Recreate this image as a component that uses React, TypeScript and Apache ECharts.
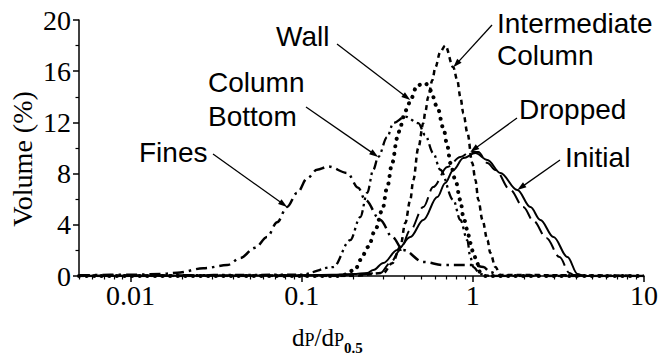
import React, { useEffect, useRef } from 'react';
import * as echarts from 'echarts';

// ---- axis ticks ----
const xMin = 0.005;
const xMax = 10;
const xTickValues = [0.01, 0.1, 1, 10];
const xTickLabels = ['0.01', '0.1', '1', '10'];
const xMinorTicks = [
  0.005, 0.006, 0.007, 0.008, 0.009,
  0.02, 0.03, 0.04, 0.05, 0.06, 0.07, 0.08, 0.09,
  0.2, 0.3, 0.4, 0.5, 0.6, 0.7, 0.8, 0.9,
  2, 3, 4, 5, 6, 7, 8, 9,
];
const yMin = 0;
const yMax = 20;
const yInterval = 4;

// ---- series data (x = dP/dP0.5, y = Volume %) ----
const initialX = [0.005, 0.1, 0.15, 0.2, 0.2415, 0.262, 0.3, 0.362, 0.431, 0.514, 0.62, 0.69, 0.769, 0.881, 1.035, 1.217, 1.448, 1.82, 2.17, 2.48, 2.96, 3.57, 4.09, 4.43, 10];
const initialY = [0, 0.05, 0.1, 0.15, 0.23, 0.47, 1.02, 2.03, 3.05, 4.38, 6.17, 7.27, 8.28, 9.22, 9.6, 9.06, 8.05, 6.72, 5.39, 4.38, 3.05, 1.48, 0.16, 0, 0];

const droppedX = [0.005, 0.1, 0.2, 0.288, 0.329, 0.377, 0.431, 0.514, 0.587, 0.71, 0.845, 0.966, 1.077, 1.217, 1.355, 1.656, 1.972, 2.26, 2.69, 3.21, 3.67, 3.98, 10];
const droppedY = [0, 0.05, 0.1, 0.23, 1.02, 2.03, 3.59, 5.39, 6.95, 8.52, 9.3, 9.69, 9.69, 8.83, 8.28, 6.72, 5.39, 4.3, 2.97, 1.48, 0.23, 0, 0];

const intermediateX = [0.005, 0.2, 0.3, 0.338, 0.377, 0.403, 0.431, 0.449, 0.48, 0.514, 0.527, 0.549, 0.58, 0.604, 0.645, 0.69, 0.769, 0.811, 0.845, 0.881, 0.929, 0.993, 1.035, 1.077, 1.138, 1.217, 1.265, 1.355, 1.448, 10];
const intermediateY = [0, 0, 0.23, 1.0, 2.27, 4.14, 5.94, 7.5, 10.0, 11.95, 12.8, 14.0, 15.3, 16.3, 17.5, 18.0, 16.3, 15.3, 14.0, 12.7, 11.2, 8.83, 7.5, 5.94, 4.38, 2.8, 1.8, 0.7, 0.08, 0];

const wallX = [0.005, 0.168, 0.2056, 0.22, 0.245, 0.269, 0.296, 0.316, 0.338, 0.362, 0.377, 0.392, 0.414, 0.431, 0.474, 0.527, 0.565, 0.62, 0.673, 0.71, 0.739, 0.791, 0.845, 0.881, 0.929, 0.966, 1.007, 1.06, 1.107, 1.183, 10];
const wallY = [0, 0, 0.47, 1.25, 2.27, 3.6, 5.16, 6.95, 8.83, 10.8, 11.6, 12.4, 13.1, 13.75, 14.9, 15.08, 14.5, 13.2, 11.56, 10.16, 8.83, 7.5, 5.94, 4.6, 3.6, 2.58, 1.8, 1.0, 0.23, 0, 0];

const columnBottomX = [0.005, 0.098, 0.153, 0.192, 0.22, 0.2415, 0.262, 0.28, 0.316, 0.343, 0.403, 0.48, 0.527, 0.587, 0.645, 0.769, 0.845, 0.929, 0.966, 1.007, 1.107, 1.26, 10];
const columnBottomY = [0, 0.1, 0.7, 2.8, 4.6, 6.5, 8.3, 9.3, 10.86, 11.95, 12.45, 11.95, 11.0, 9.6, 8.3, 5.94, 4.38, 2.8, 1.5, 0.7, 0.15, 0, 0];

const finesX = [0.005, 0.01, 0.015, 0.0187, 0.0266, 0.0367, 0.0437, 0.0534, 0.0628, 0.0719, 0.0822, 0.0941, 0.108, 0.123, 0.143, 0.1845, 0.214, 0.235, 0.288, 0.338, 0.392, 0.514, 0.673, 0.93, 1.007, 1.153, 1.265, 1.448, 10];
const finesY = [0.05, 0.1, 0.15, 0.25, 0.6, 0.85, 1.4, 2.2, 3.05, 4.2, 5.4, 6.5, 7.65, 8.3, 8.55, 8.05, 6.9, 5.94, 4.38, 3.05, 2.03, 1.1, 0.86, 0.86, 0.86, 0.7, 0.3, 0, 0];

const seriesNames = ['Initial', 'Dropped', 'Intermediate Column', 'Wall', 'Column Bottom', 'Fines'];
const seriesXs = [initialX, droppedX, intermediateX, wallX, columnBottomX, finesX];
const seriesYs = [initialY, droppedY, intermediateY, wallY, columnBottomY, finesY];

// annotation label lines, per series
const labelLines = [['Initial'], ['Dropped'], ['Intermediate', 'Column'], ['Wall'], ['Column', 'Bottom'], ['Fines']];
// arrow tip = a point of the series (index into its arrays)
const tipPointIndex = [17, 11, 16, 13, 7, 10];

// ---- styles / layout ----
const SERIF = "'Liberation Serif', 'Times New Roman', serif";
const SANS = "'Liberation Sans', Arial, sans-serif";
const lineStyles: any[] = [
  { width: 2, type: 'solid' },
  { width: 2, type: [14, 6] },
  { width: 2.5, type: [5, 4] },
  { width: 4, type: [0.1, 7.5], cap: 'round' },
  { width: 2.3, type: [9, 4, 2.5, 4, 2.5, 4] },
  { width: 2.5, type: [11, 5, 2.5, 5] },
];
const LABEL_SIZE = 28;
const labelLayout = [
  { x: 565, baselines: [167], tail: [560, 160] },
  { x: 519, baselines: [119], tail: [517, 118] },
  { x: 497, baselines: [33, 65], tail: [492, 25] },
  { x: 276, baselines: [46], tail: [337, 44] },
  { x: 208, baselines: [92, 126], tail: [306, 107] },
  { x: 139, baselines: [162], tail: [213, 154] },
];

const measureCtx = typeof document !== 'undefined' ? document.createElement('canvas').getContext('2d') : null;
function textWidth(text: string, font: string): number {
  if (!measureCtx) return text.length * 10;
  measureCtx.font = font;
  return measureCtx.measureText(text).width;
}

export default function App() {
  const ref = useRef<HTMLDivElement>(null);
  useEffect(() => {
    if (!ref.current) return;
    const chart = echarts.init(ref.current, null, { renderer: 'svg' });
    const lg = (v: number) => Math.log10(v);
    const majorLog = xTickValues.map(lg);
    const labelFor = (v: number) => {
      for (let i = 0; i < majorLog.length; i++) {
        if (Math.abs(majorLog[i] - v) < 1e-6) return xTickLabels[i];
      }
      return '';
    };
    const series = seriesNames.map((name, i) => ({
      name,
      type: 'line',
      data: seriesXs[i].map((x, j) => [lg(x), seriesYs[i][j]]),
      showSymbol: false,
      symbol: 'none',
      smooth: 0.35,
      smoothMonotone: 'x',
      silent: true,
      lineStyle: { color: '#000', ...lineStyles[i] },
      z: 3,
    }));
    chart.setOption({
      animation: false,
      backgroundColor: '#fff',
      grid: { left: 79, right: 16, top: 20, bottom: 82, containLabel: false, outerBoundsMode: 'none' },
      xAxis: [
        {
          type: 'value', min: lg(xMin), max: lg(xMax), position: 'bottom',
          axisLine: { show: true, onZero: false, lineStyle: { color: '#000', width: 1.5 } },
          axisTick: { show: true, inside: false, length: 6, customValues: majorLog, lineStyle: { color: '#000', width: 1.5 } },
          axisLabel: { customValues: majorLog, formatter: (v: number) => labelFor(v), fontFamily: SERIF, fontSize: 28, color: '#000', margin: 5 },
          splitLine: { show: false },
        },
        {
          type: 'value', min: lg(xMin), max: lg(xMax), position: 'bottom', gridIndex: 0,
          axisLine: { show: false },
          axisTick: { show: true, inside: false, length: 3.5, customValues: xMinorTicks.map(lg), lineStyle: { color: '#000', width: 1.2 } },
          axisLabel: { show: false },
          splitLine: { show: false },
        },
      ],
      yAxis: {
        type: 'value', min: yMin, max: yMax, interval: yInterval,
        axisLine: { show: true, onZero: false, lineStyle: { color: '#000', width: 1.5 } },
        axisTick: { show: true, inside: false, length: 6, lineStyle: { color: '#000', width: 1.5 } },
        minorTick: { show: true, splitNumber: 2, length: 3.5, lineStyle: { color: '#000', width: 1.2 } },
        axisLabel: { fontFamily: SERIF, fontSize: 28, color: '#000', margin: 8 },
        splitLine: { show: false },
      },
      series,
    });

    const graphics: any[] = [];
    // annotations
    seriesNames.forEach((_, i) => {
      const lay = labelLayout[i];
      labelLines[i].forEach((t, k) => {
        graphics.push({
          type: 'text', x: lay.x, y: lay.baselines[k] - 0.3465 * LABEL_SIZE,
          style: { text: t, fill: '#000', fontFamily: SANS, fontSize: LABEL_SIZE, align: 'left', verticalAlign: 'middle' },
        });
      });
      const pi = tipPointIndex[i];
      const tip = chart.convertToPixel({ xAxisIndex: 0, yAxisIndex: 0 } as any, [lg(seriesXs[i][pi]), seriesYs[i][pi]]) as number[];
      const [tx, ty] = lay.tail;
      const dx = tip[0] - tx, dy = tip[1] - ty;
      const len = Math.sqrt(dx * dx + dy * dy);
      const ux = dx / len, uy = dy / len;
      const L = 9, W = 3;
      graphics.push({
        type: 'line',
        shape: { x1: tx, y1: ty, x2: tip[0] - ux * L * 0.6, y2: tip[1] - uy * L * 0.6 },
        style: { stroke: '#000', lineWidth: 1.3 },
        z: 10,
      });
      graphics.push({
        type: 'polygon',
        shape: { points: [[tip[0], tip[1]], [tip[0] - ux * L - uy * W, tip[1] - uy * L + ux * W], [tip[0] - ux * L + uy * W, tip[1] - uy * L - ux * W]] },
        style: { fill: '#000' },
        z: 10,
      });
    });
    // y axis title
    graphics.push({
      type: 'text', x: 22, y: 159, rotation: Math.PI / 2,
      style: { text: 'Volume (%)', fill: '#000', fontFamily: SERIF, fontSize: 28, align: 'center', verticalAlign: 'middle' },
    });
    // x axis title: d_P / d_P0.5
    const parts = [
      { t: 'd', size: 25, weight: 'normal', base: 346 },
      { t: 'P', size: 18, weight: 'normal', base: 346 },
      { t: '/d', size: 25, weight: 'normal', base: 346 },
      { t: 'P', size: 18, weight: 'normal', base: 346 },
      { t: '0.5', size: 15, weight: 'bold', base: 353 },
    ];
    let cx = 292;
    parts.forEach((p) => {
      graphics.push({
        type: 'text', x: cx, y: p.base - 0.3375 * p.size,
        style: { text: p.t, fill: '#000', fontFamily: SERIF, fontSize: p.size, fontWeight: p.weight, align: 'left', verticalAlign: 'middle' },
      });
      cx += textWidth(p.t, `${p.weight} ${p.size}px ${SERIF}`);
    });
    chart.setOption({ graphic: graphics });

    return () => chart.dispose();
  }, []);
  return <div ref={ref} style={{ position: 'fixed', left: 0, top: 0, width: 660, height: 358 }} />;
}
